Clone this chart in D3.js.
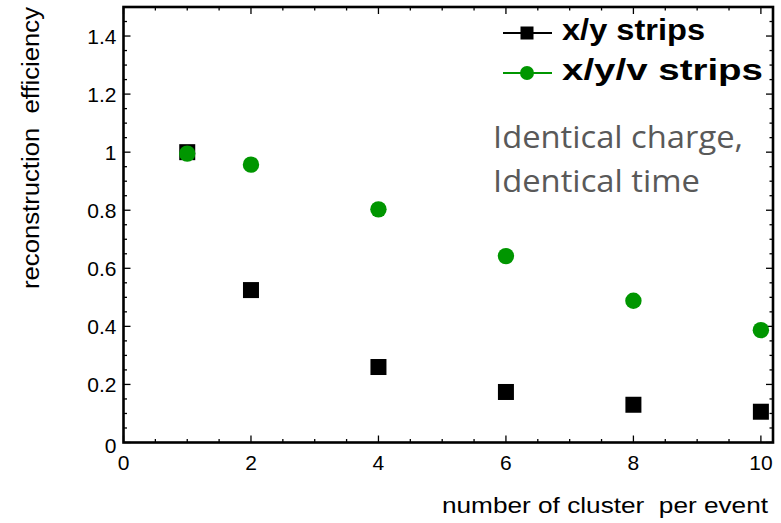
<!DOCTYPE html>
<html>
<head>
<meta charset="utf-8">
<script src="https://cdn.jsdelivr.net/npm/d3@7"></script>
<style>
  body { margin: 0; background: #fff; }
  svg { display: block; }
</style>
</head>
<body>
<div id="chart"></div>
<script>

// data
var clusters = [1, 2, 4, 6, 8, 10];
var xyStrips = [1.0, 0.525, 0.26, 0.174, 0.13, 0.106];
var xyvStrips = [0.995, 0.957, 0.803, 0.642, 0.488, 0.387];
var xTicks = [0, 2, 4, 6, 8, 10];
var yTicks = [0, 0.2, 0.4, 0.6, 0.8, 1, 1.2, 1.4];
var seriesNames = ["x/y strips", "x/y/v strips"];

var W = 781, H = 523;
var margin = {top: 7, right: 8, bottom: 80.5, left: 123.5},
    width = W - margin.left - margin.right,
    height = H - margin.top - margin.bottom;

var green = "#009600";

var svg = d3.select("#chart").append("svg")
    .attr("width", W)
    .attr("height", H);

var g = svg.append("g")
    .attr("transform", "translate(" + margin.left + "," + margin.top + ")");

var x = d3.scaleLinear().domain([0, 10.19]).range([0, width]);
var y = d3.scaleLinear().domain([0, 1.5]).range([height, 0]);

// ticks, ROOT style: inward on all four sides
var ticks = g.append("g").attr("stroke", "#000").attr("stroke-width", 1.3);
d3.range(0, 10.2, 0.5).forEach(function(v) {
  var major = Math.abs(v % 2) < 1e-6;
  var len = major ? 7 : 3.5;
  ticks.append("line").attr("x1", x(v)).attr("x2", x(v))
      .attr("y1", height).attr("y2", height - len);
  ticks.append("line").attr("x1", x(v)).attr("x2", x(v))
      .attr("y1", 0).attr("y2", len);
});
d3.range(0, 1.5001, 0.05).forEach(function(v) {
  var major = Math.abs(Math.round(v * 100) % 20) < 1e-6;
  var len = major ? 7 : 3.5;
  ticks.append("line").attr("y1", y(v)).attr("y2", y(v))
      .attr("x1", 0).attr("x2", len);
  ticks.append("line").attr("y1", y(v)).attr("y2", y(v))
      .attr("x1", width).attr("x2", width - len);
});

// frame
g.append("rect")
    .attr("width", width).attr("height", height)
    .attr("fill", "none").attr("stroke", "#000").attr("stroke-width", 2.6);

// tick labels
g.append("g").selectAll("text")
    .data(xTicks)
  .enter().append("text")
    .attr("x", function(d) { return x(d); })
    .attr("y", height + 27)
    .attr("text-anchor", "middle")
    .style("font-family", "'Liberation Sans', Arial, sans-serif")
    .style("font-size", "21px")
    .text(function(d) { return d; });

g.append("g").selectAll("text")
    .data(yTicks)
  .enter().append("text")
    .attr("x", -7)
    .attr("y", function(d) { return y(d) + (d === 0 ? 10 : 7.5); })
    .attr("text-anchor", "end")
    .style("font-family", "'Liberation Sans', Arial, sans-serif")
    .style("font-size", "21px")
    .text(function(d) { return d; });

// axis titles
svg.append("text")
    .attr("x", 768)
    .attr("y", 513)
    .attr("text-anchor", "end")
    .attr("textLength", 326)
    .attr("lengthAdjust", "spacingAndGlyphs")
    .style("font-family", "'Liberation Sans', Arial, sans-serif")
    .style("font-size", "22px")
    .style("white-space", "pre")
    .text("number of cluster  per event");

svg.append("text")
    .attr("transform", "translate(39,148) rotate(-90)")
    .attr("text-anchor", "middle")
    .attr("textLength", 282)
    .attr("lengthAdjust", "spacingAndGlyphs")
    .style("font-family", "'Liberation Sans', Arial, sans-serif")
    .style("font-size", "23px")
    .style("white-space", "pre")
    .text("reconstruction  efficiency");

// markers: squares first, circles on top
g.append("g").selectAll("rect")
    .data(clusters)
  .enter().append("rect")
    .attr("x", function(d) { return x(d) - 8; })
    .attr("y", function(d, i) { return y(xyStrips[i]) - 8; })
    .attr("width", 16)
    .attr("height", 16)
    .attr("fill", "#000");

g.append("g").selectAll("circle")
    .data(clusters)
  .enter().append("circle")
    .attr("cx", function(d) { return x(d); })
    .attr("cy", function(d, i) { return y(xyvStrips[i]); })
    .attr("r", 8.2)
    .attr("fill", green);

// legend
var legend = svg.append("g");
var legY = [33, 73];
var legLen = [143, 201];
legY.forEach(function(ly, i) {
  var col = i === 0 ? "#000" : green;
  legend.append("line")
      .attr("x1", 503).attr("x2", 552)
      .attr("y1", ly).attr("y2", ly)
      .attr("stroke", col).attr("stroke-width", 2);
  if (i === 0) {
    legend.append("rect")
        .attr("x", 527 - 6.5).attr("y", ly - 6.5)
        .attr("width", 13).attr("height", 13)
        .attr("fill", col);
  } else {
    legend.append("circle")
        .attr("cx", 527).attr("cy", ly).attr("r", 7)
        .attr("fill", col);
  }
  legend.append("text")
      .attr("x", 562)
      .attr("y", ly + 7)
      .attr("textLength", legLen[i])
      .attr("lengthAdjust", "spacingAndGlyphs")
      .style("font-family", "'Liberation Sans', Arial, sans-serif")
      .style("font-weight", "bold")
      .style("font-size", "29px")
      .text(seriesNames[i]);
});

// note
var note = ["Identical charge,", "Identical time"];
var noteLen = [250, 207];
svg.append("g").selectAll("text")
    .data(note)
  .enter().append("text")
    .attr("x", 493)
    .attr("y", function(d, i) { return 148 + i * 43.5; })
    .attr("textLength", function(d, i) { return noteLen[i]; })
    .attr("lengthAdjust", "spacingAndGlyphs")
    .style("font-family", "'Open Sans', sans-serif")
    .style("font-size", "31px")
    .style("fill", "#595959")
    .text(function(d) { return d; });

</script>
</body>
</html>
